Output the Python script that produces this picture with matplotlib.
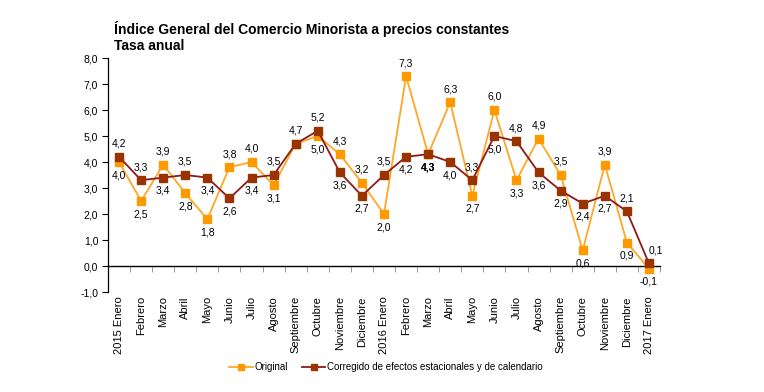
import numpy as np
import matplotlib
matplotlib.use("Agg")
import matplotlib.pyplot as plt

plt.rcParams['font.family'] = ['Liberation Sans', 'DejaVu Sans']

meses = ["2015 Enero", "Febrero", "Marzo", "Abril", "Mayo", "Junio", "Julio",
         "Agosto", "Septiembre", "Octubre", "Noviembre", "Diciembre",
         "2016 Enero", "Febrero", "Marzo", "Abril", "Mayo", "Junio", "Julio",
         "Agosto", "Septiembre", "Octubre", "Noviembre", "Diciembre", "2017 Enero"]

original = [4.0, 2.5, 3.9, 2.8, 1.8, 3.8, 4.0, 3.1, 4.7, 5.0, 4.3, 3.2,
            2.0, 7.3, 4.3, 6.3, 2.7, 6.0, 3.3, 4.9, 3.5, 0.6, 3.9, 0.9, -0.1]
corregido = [4.2, 3.3, 3.4, 3.5, 3.4, 2.6, 3.4, 3.5, 4.7, 5.2, 3.6, 2.7,
             3.5, 4.2, 4.3, 4.0, 3.3, 5.0, 4.8, 3.6, 2.9, 2.4, 2.7, 2.1, 0.1]

# label side: 1 = above, -1 = below, 0 = no label
pos_orig = [-1, -1, 1, -1, -1, 1, 1, -1, 0, -1, 1, 1,
            -1, 1, -1, 1, -1, 1, -1, 1, 1, -1, 1, -1, -1]
pos_corr = [1, 1, -1, 1, -1, -1, -1, 1, 1, 1, -1, -1,
            1, -1, -1, -1, 1, -1, 1, -1, -1, -1, -1, 1, 1]

c_orig = '#FF9900'
c_corr_line = '#8B1A1A'
c_corr_mk = '#993300'

fig = plt.figure(figsize=(7.64, 3.92), dpi=100)
ax = fig.add_axes([108/764, 1 - 292/392, (660-108)/764, (292-58)/392])

x = np.arange(len(meses))
ax.plot(x, original, color='#FFA726', lw=1.3, marker='s', ms=5.5,
        mfc=c_orig, mec=c_orig, label='Original', zorder=3)
ax.plot(x, corregido, color=c_corr_line, lw=1.3, marker='s', ms=5.5,
        mfc=c_corr_mk, mec=c_corr_mk,
        label='Corregido de efectos estacionales y de calendario', zorder=4)

def fmt(v):
    return f"{v:.1f}".replace('.', ',')

for xi, v, p in zip(x, original, pos_orig):
    if p:
        ax.annotate(fmt(v), (xi, v), xytext=(0, 9.5 * p), textcoords='offset points',
                    ha='center', va='center', fontsize=7.5)
for xi, v, p in zip(x, corregido, pos_corr):
    if p:
        dx = 5 if xi == len(x) - 1 else 0
        ax.annotate(fmt(v), (xi, v), xytext=(dx, 9.5 * p), textcoords='offset points',
                    ha='center', va='center', fontsize=7.5,
                    fontweight='bold' if xi == 14 else 'normal')

ax.set_xlim(-0.5, len(meses) - 0.5)
ax.set_ylim(-1, 8)
ax.set_yticks(range(-1, 9))
ax.set_yticklabels([fmt(v) for v in range(-1, 9)], fontsize=7.5)
ax.tick_params(axis='y', direction='out', length=4, width=0.8, pad=3)

ax.set_xticks(x)
ax.set_xticklabels(meses, rotation=90, fontsize=8)
ax.tick_params(axis='x', length=0, pad=3)

for s in ['top', 'right', 'bottom']:
    ax.spines[s].set_visible(False)
ax.spines['left'].set_linewidth(0.9)

# zero line with tick marks
sec = ax.secondary_xaxis(1/9)
sec.set_xticks(np.arange(-0.5, len(meses), 1))
sec.set_xticklabels([])
sec.tick_params(direction='out', length=4, width=0.6, color='#888888')
sec.spines['bottom'].set_linewidth(1.0)

fig.text(114/764, 1 - 34/392, "Índice General del Comercio Minorista a precios constantes",
         fontsize=10, fontweight='bold')
fig.text(114/764, 1 - 50/392, "Tasa anual", fontsize=10, fontweight='bold')

fig.legend(loc='center', bbox_to_anchor=(386/764, 1 - 367/392), ncol=2,
           frameon=False, fontsize=7, handlelength=2.4, handletextpad=0.15,
           columnspacing=1.5, markerscale=0.7)

fig.savefig("out.png", dpi=100)
